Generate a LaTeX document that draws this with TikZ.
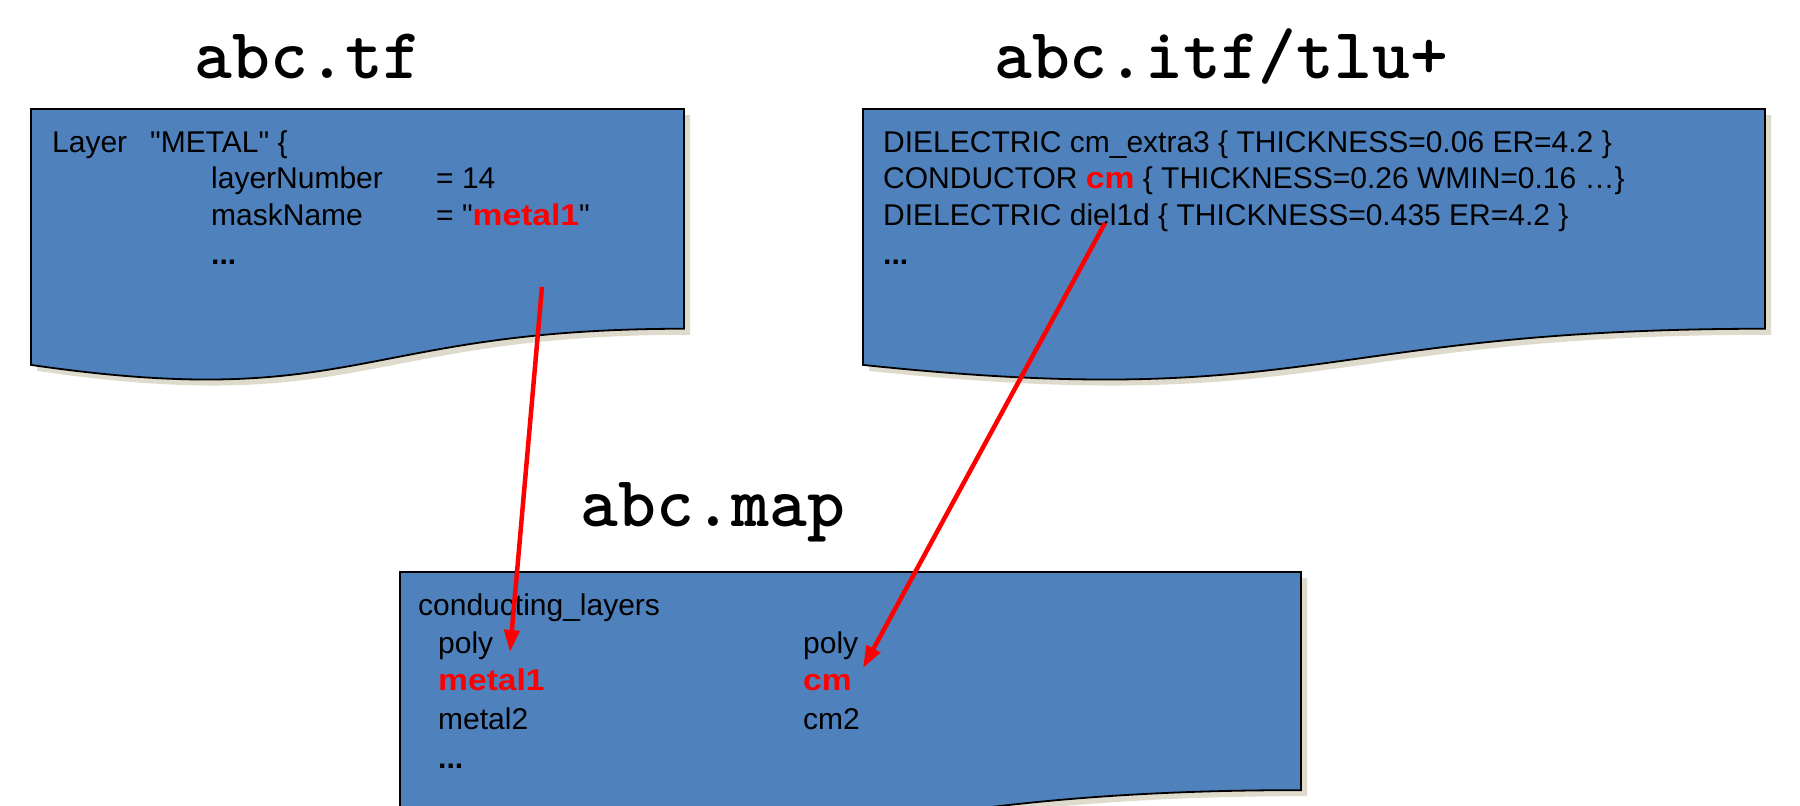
\documentclass[tikz,border=0pt]{standalone}
\usepackage{fontspec}
\newfontfamily\bodyfont{Liberation Sans}
\newfontfamily\hlfont[FakeStretch=1.12]{Liberation Sans}
\usetikzlibrary{arrows.meta}
\definecolor{docblue}{RGB}{79,129,189}
\definecolor{docshadow}{RGB}{222,219,204}
\definecolor{hired}{RGB}{255,0,0}
\newcommand\hltext[1]{{\color{hired}\hlfont\bfseries #1}}
\newcommand\wavedoc[4]{% x0, y0, w, h
  \pgfmathsetmacro\wdxr{#1+#3}\pgfmathsetmacro\wdxm{#1+#3/2}%
  \pgfmathsetmacro\wdyr{#2+0.802*#4}\pgfmathsetmacro\wdyl{#2+0.934*#4}%
  \pgfmathsetmacro\wdyc{#2+1.1075*#4}%
  \fill[docshadow,shift={(6,6)}] (#1,#2) -- (\wdxr,#2) -- (\wdxr,\wdyr) .. controls (\wdxm,\wdyr) and (\wdxm,\wdyc) .. (#1,\wdyl) -- cycle;
  \draw[docbox] (#1,#2) -- (\wdxr,#2) -- (\wdxr,\wdyr) .. controls (\wdxm,\wdyr) and (\wdxm,\wdyc) .. (#1,\wdyl) -- cycle;
}
\begin{document}
\begin{tikzpicture}[x=1pt,y=-1pt,
  docbox/.style={fill=docblue,draw=black,line width=1.8pt},
  txt/.style={anchor=base west,inner sep=0pt,font=\bodyfont\fontsize{30}{34}\selectfont},
  title/.style={anchor=base,inner sep=0pt,font=\ttfamily\bfseries\fontsize{72}{78}\selectfont},
  arr/.style={draw=hired,line width=4.5pt,-{Triangle[length=22pt,width=15pt]}}]
\useasboundingbox (0,0) rectangle (1800,806);
\clip (0,0) rectangle (1800,806);
% titles
\node[title] (t1) at (308,78) {abc.tf};
\node[title] (t2) at (1221,78) {abc.itf/tlu+};
\node[title] (t3) at (713,526) {abc.map};
% documents
\wavedoc{31}{109}{653}{274}
\wavedoc{863}{109}{902}{274}
\wavedoc{400}{572}{901}{272}
% left text
\node[txt] (l1a) at (52,152) {Layer};
\node[txt] (l1b) at (150,152) {"METAL" \{};
\node[txt] (l2a) at (211,188) {layerNumber};
\node[txt] (l2b) at (436,188) {= 14};
\node[txt] (l3a) at (211,225) {maskName};
\node[txt] (l3b) at (436,225) {= "\hltext{metal1}"};
\node[txt] (l4) at (211,264) {\bfseries ...};
% right text
\node[txt] (r1) at (883,152) {DIELECTRIC cm\_extra3 \{ THICKNESS=0.06 ER=4.2 \}};
\node[txt] (r2) at (883,188) {CONDUCTOR \hltext{cm} \{ THICKNESS=0.26 WMIN=0.16 \ldots\}};
\node[txt] (r3) at (883,225) {DIELECTRIC diel1d \{ THICKNESS=0.435 ER=4.2 \}};
\node[txt] (r4) at (883,264) {\bfseries ...};
% map text
\node[txt] (m0) at (418,615) {conducting\_layers};
\node[txt] (m1a) at (438,653) {poly};
\node[txt] (m1b) at (803,653) {poly};
\node[txt] (m2a) at (438,690) {\hltext{metal1}};
\node[txt] (m2b) at (803,690) {\hltext{cm}};
\node[txt] (m3a) at (438,729) {metal2};
\node[txt] (m3b) at (803,729) {cm2};
\node[txt] (m4) at (438,768) {\bfseries ...};
% arrows
\coordinate (a1s) at (542,287);
\coordinate (a1e) at (510,652);
\coordinate (a2s) at (1105,223);
\coordinate (a2e) at (863,668);
\draw[arr] (a1s) -- (a1e);
\draw[arr] (a2s) -- (a2e);
\end{tikzpicture}
\end{document}
